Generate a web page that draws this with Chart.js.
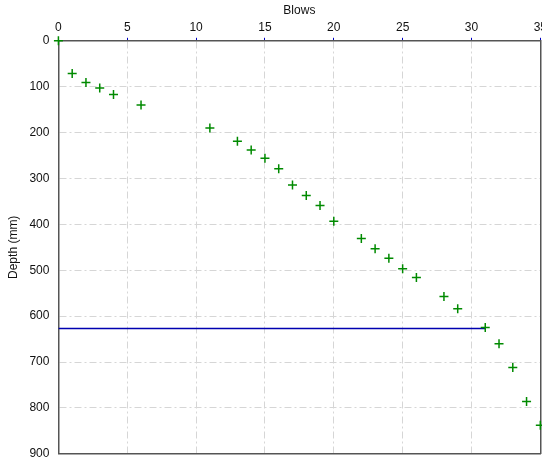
<!DOCTYPE html>
<html>
<head>
<meta charset="utf-8">
<script src="https://cdn.jsdelivr.net/npm/chart.js@4"></script>
<style>
  html, body { margin: 0; padding: 0; background: #fff; overflow: hidden; }
  #wrap { width: 542px; height: 460px; overflow: hidden; }
</style>
</head>
<body>
<div id="wrap"><canvas id="dcpChart" width="550" height="464"></canvas></div>
<script>
// penetration test readings: cumulative blows vs depth (mm)
const blows = [0, 1, 2, 3, 4, 6, 11, 13, 14, 15, 16, 17, 18, 19, 20, 22, 23, 24, 25, 26, 28, 29, 31, 32, 33, 34, 35];
const depth = [0, 71, 91, 103, 117, 140, 190, 219, 238, 256, 279, 314, 337, 359, 393, 431, 453, 474, 497, 516, 557, 584, 625, 660, 712, 786, 838];

// horizontal marker line
const markerX = [0, 31];
const markerY = [627, 627];

const blowTicks = [0, 5, 10, 15, 20, 25, 30, 35];
const depthTicks = [0, 100, 200, 300, 400, 500, 600, 700, 800, 900];

const font = { family: '"Liberation Sans", Arial, sans-serif', size: 12 };
const gridStyle = { color: '#d6d6d6', lineWidth: 1 };
const frame = { display: true, color: '#555', width: 1.5, dash: [7, 3, 2, 3] };

const ctx = document.getElementById('dcpChart').getContext('2d');

new Chart(ctx, {
  type: 'scatter',
  data: {
    datasets: [
      {
        label: 'Marker',
        data: markerX.map((x, i) => ({ x: x, y: markerY[i] })),
        showLine: true,
        borderColor: '#0000b0',
        borderWidth: 1.5,
        pointRadius: 0,
        order: 2
      },
      {
        label: 'Readings',
        data: blows.map((b, i) => ({ x: b, y: depth[i] })),
        pointStyle: 'cross',
        pointRadius: 4.5,
        borderColor: '#008a00',
        backgroundColor: '#008a00',
        borderWidth: 1.5,
        clip: false,
        order: 1
      }
    ]
  },
  options: {
    responsive: false,
    animation: false,
    layout: { padding: { top: 3, left: 6, right: 0, bottom: 0 } },
    plugins: {
      legend: { display: false },
      tooltip: { enabled: false }
    },
    scales: {
      x: {
        type: 'linear',
        position: 'top',
        min: 0,
        max: 35,
        afterBuildTicks: s => { s.ticks = blowTicks.map(v => ({ value: v })); },
        ticks: { font: font, color: '#111', padding: 3, maxRotation: 0 },
        grid: Object.assign({}, gridStyle, { tickLength: 3, tickColor: '#0000c0', tickBorderDash: [] }),
        border: frame,
        title: { display: true, text: 'Blows', font: font, color: '#111', padding: { top: 0, bottom: 0 } }
      },
      y: {
        type: 'linear',
        reverse: true,
        min: 0,
        max: 900,
        afterBuildTicks: s => { s.ticks = depthTicks.map(v => ({ value: v })); },
        ticks: { font: font, color: '#111', padding: 3 },
        grid: Object.assign({}, gridStyle, { tickLength: 6, tickColor: 'rgba(0,0,0,0)', tickBorderDash: [] }),
        border: frame,
        title: { display: true, text: 'Depth (mm)', font: font, color: '#111', padding: { top: 0, bottom: 6 } }
      },
      x2: {
        type: 'linear',
        position: 'bottom',
        min: 0,
        max: 35,
        ticks: { display: false },
        grid: { display: false, drawTicks: false },
        border: { display: true, color: '#555', width: 1.5 }
      },
      y2: {
        type: 'linear',
        position: 'right',
        min: 0,
        max: 900,
        ticks: { display: false },
        grid: { display: false, drawTicks: false },
        border: { display: true, color: '#555', width: 1.5 }
      }
    }
  }
});
</script>
</body>
</html>
